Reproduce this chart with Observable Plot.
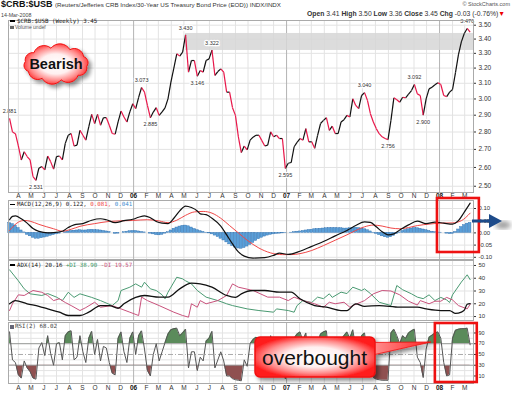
<!DOCTYPE html>
<html><head><meta charset="utf-8">
<script src="https://cdn.jsdelivr.net/npm/d3@7"></script>
<script src="https://cdn.jsdelivr.net/npm/@observablehq/plot@0.6"></script>
<style>
body{margin:0;background:#fff;font-family:"Liberation Sans",Arial,sans-serif}
#wrap{position:relative;width:512px;height:395px;overflow:hidden;background:#fff}
.t{position:absolute;white-space:nowrap;line-height:1}
.mono{font-family:"DejaVu Sans Mono",monospace;font-size:5.8px;color:#222}
.sw{display:inline-block;width:5px;height:1.3px;background:#000;vertical-align:middle;margin-right:2px}
</style></head><body><div id="wrap"></div>
<script>
// ---------- DATA ----------
const startWeek = Date.UTC(2005, 2, 11); // first weekly close (Fri 11-Mar-2005)
const wk = k => new Date(startWeek + k * 7 * 864e5);

const price = [2.881,2.80,2.79,2.72,2.641,2.687,2.66,2.641,2.551,2.531,
 2.596,2.605,2.587,2.663,2.632,2.591,2.660,2.663,2.641,2.734,
 2.781,2.791,2.719,2.724,2.810,2.781,2.753,2.83,2.905,2.850,
 2.905,2.840,2.885,2.885,2.84,2.791,2.787,2.86,2.925,2.889,
 2.859,2.92,2.970,2.940,3.01,3.073,3.043,2.96,2.885,2.919,
 2.946,2.899,2.92,2.945,3.001,3.107,3.20,3.297,3.281,3.308,
 3.430,3.173,3.251,3.251,3.146,3.184,3.173,3.251,3.262,3.322,
 3.151,3.177,3.195,3.173,3.043,3.043,2.946,2.899,2.772,2.682,
 2.719,2.697,2.753,2.77,2.781,2.781,2.75,2.719,2.724,2.801,
 2.772,2.781,2.762,2.762,2.595,2.623,2.627,2.715,2.74,2.762,
 2.753,2.820,2.743,2.743,2.706,2.78,2.850,2.869,2.885,2.810,
 2.834,2.791,2.791,2.859,2.873,2.899,2.889,3.001,2.960,2.940,
 3.022,3.040,2.991,2.909,2.859,2.82,2.79,2.772,2.762,2.756,
 2.869,3.007,2.995,2.980,3.011,3.007,3.03,3.053,3.092,3.032,
 3.022,2.900,3.001,3.064,3.075,3.09,3.103,3.092,3.022,3.015,
 3.043,3.06,3.17,3.29,3.38,3.44,3.476,3.45];
const priceTicks = [2.5,2.6,2.7,2.8,2.9,3.0,3.1,3.2,3.3,3.4,3.5];
// [week index, label, side]
const peakLabels = [[0,"2.881","up"],[9,"2.531","down"],[45,"3.073","up"],[48,"2.885","down"],
 [60,"3.430","up"],[64,"3.146","down"],[69,"3.322","up"],[94,"2.595","down"],[121,"3.040","up"],
 [129,"2.756","down"],[138,"3.092","up"],[141,"2.900","down"],[156,"3.476","up"]];
const resistanceBand = [60, 3.32, 3.44]; // from week, low, high

const macdLine = [[0,0.054],[1,0.068],[2,0.070],[4,0.058],[6,0.040],[8,0.018],[10,0.006],[13,0.000],[15,0.001],[18,0.007],[20,0.022],[22,0.033],[25,0.038],[28,0.052],[31,0.058],[33,0.054],[36,0.042],[39,0.050],[42,0.056],[44,0.064],[46,0.070],[48,0.062],[50,0.047],[52,0.040],[54,0.038],[56,0.060],[58,0.090],[60,0.110],[62,0.104],[64,0.090],[65,0.078],[67,0.075],[69,0.060],[72,0.028],[74,-0.008],[76,-0.045],[78,-0.078],[80,-0.095],[83,-0.103],[87,-0.101],[90,-0.092],[92,-0.083],[95,-0.088],[99,-0.075],[103,-0.055],[107,-0.035],[111,-0.012],[115,0.010],[118,0.030],[121,0.045],[123,0.043],[125,0.025],[127,0.005],[129,-0.008],[131,-0.004],[133,0.012],[136,0.033],[139,0.048],[142,0.038],[145,0.044],[148,0.040],[151,0.036],[153,0.050],[155,0.085],[157,0.122]];
const signalLine = [[0,0.010],[3,0.044],[5,0.051],[7,0.048],[10,0.035],[15,0.017],[18,0.007],[21,0.015],[24,0.027],[29,0.038],[34,0.047],[42,0.051],[47,0.054],[51,0.049],[54,0.042],[57,0.052],[60,0.072],[63,0.086],[66,0.088],[69,0.081],[72,0.060],[75,0.030],[78,0.000],[81,-0.030],[85,-0.062],[89,-0.082],[93,-0.089],[96,-0.089],[99,-0.085],[103,-0.072],[107,-0.052],[111,-0.030],[115,-0.008],[118,0.010],[121,0.025],[124,0.032],[127,0.028],[130,0.020],[133,0.017],[136,0.022],[139,0.030],[143,0.036],[147,0.040],[151,0.041],[154,0.050],[157,0.081]];
const macdHist = [0.040,0.036,0.030,0.020,0.010,0.002,-0.008,-0.014,-0.020,-0.024,-0.024,
 -0.022,-0.019,-0.016,-0.012,-0.009,-0.006,-0.003,
 0.000,0.003,0.006,0.008,0.009,
 0.010,0.011,0.010,0.010,0.012,0.013,0.012,0.011,0.010,0.008,0.006,0.004,
 0.000,-0.004,-0.003,0.000,
 0.003,0.005,0.007,0.008,0.008,0.006,
 0.004,0.002,0.000,-0.003,
 -0.006,-0.009,-0.010,-0.008,
 -0.003,0.003,0.010,0.017,0.022,0.026,0.029,0.030,0.027,0.022,
 0.016,0.011,0.007,0.004,0.001,-0.002,
 -0.006,-0.011,-0.017,-0.024,
 -0.031,-0.039,-0.047,-0.054,-0.060,-0.064,-0.065,-0.062,-0.056,-0.049,-0.041,-0.033,
 -0.026,-0.020,-0.015,-0.011,-0.008,-0.006,-0.004,-0.003,-0.002,-0.001,0.000,
 0.001,0.003,0.005,0.006,0.008,
 0.010,0.012,0.013,0.015,0.016,0.017,0.018,0.019,0.020,0.020,0.020,0.019,0.019,0.018,0.018,0.019,0.020,0.021,0.020,0.018,0.015,0.011,0.006,0.001,-0.004,
 -0.009,-0.014,-0.018,-0.020,-0.018,-0.012,
 -0.005,0.002,0.008,0.012,0.015,0.018,0.020,0.019,0.017,0.014,0.011,0.008,
 0.005,0.003,0.002,0.001,0.000,
 -0.003,-0.005,-0.004,
 0.004,0.014,0.024,0.032,0.038,0.041];
const macdTicks = [-0.10,-0.05,0,0.05,0.10];

const adxLine = [[0,20],[2,22.5],[6,20],[10,18],[13,16],[17,13.4],[20,10.8],[24,10.8],[27,13.4],[31,18.6],[34,18.6],[37,16.5],[39,20],[43,25],[46,26.5],[51,25.2],[54,25.2],[58,31.7],[62,36.1],[65,35.6],[69,33],[74,26.5],[77,25],[79,27.8],[83,30.4],[87,30.4],[92,29.1],[96,29.1],[99,23.9],[104,18.6],[108,17.3],[113,14.7],[115,14.7],[118,20],[121,18],[126,18.6],[133,17.3],[139,17.3],[142,16],[147,14.7],[150,14.7],[152,12.5],[154,13.5],[155,15],[156,19.6],[157,20.16]];
const plusDI = [[0,46.6],[3,38],[5,31.7],[7,27.8],[11,26.5],[13,28],[16,25.2],[18,22.5],[20,29],[22,25],[24,27.8],[28,25],[31,22.5],[35,18.6],[37,22.5],[38,30.4],[41,33],[43,35.6],[45,33],[46,36.9],[48,31.7],[50,30.4],[52,27],[53,23.9],[54,29],[57,40.8],[59,39.5],[60,38],[62,35.6],[64,30.4],[67,25.2],[71,22.5],[74,20],[76,18.6],[81,16],[85,14.7],[90,13.4],[91,16],[95,14.7],[97,13.4],[98,18.6],[100,22.5],[103,21],[105,25.2],[107,24],[109,27.8],[110,25],[113,29.1],[115,28],[117,33],[120,30.4],[121,31.7],[123,28],[126,21.2],[130,18.6],[132,34.3],[134,31],[137,27.8],[139,25.2],[141,24],[143,27],[145,22.5],[147,25],[149,23],[150,21],[151,27],[154,37],[156,42.7],[157,38.9]];
const minusDI = [[0,14.7],[1,20],[3,27],[5,26.5],[8,30.4],[11,29],[13,26.5],[15,22.5],[17,23.9],[19,21],[21,18.6],[24,14.7],[26,17],[29,21.2],[31,17.3],[35,18.6],[38,16],[41,13.4],[44,10.8],[45,25.2],[47,22.5],[51,18.6],[56,13.4],[59,10.8],[61,9.5],[62,20],[64,17.3],[65,22.5],[67,20],[71,22.5],[74,26.5],[76,35.6],[78,33],[83,30.4],[88,25.2],[92,25.2],[95,22.5],[97,25.2],[100,22.5],[104,20],[107,17.3],[109,21.2],[111,20],[114,21.2],[116,17.3],[117,18.6],[121,22.5],[124,27.8],[127,30.4],[130,30],[133,27],[136,22],[139,19],[140,22.5],[143,20],[145,22],[147,22],[149,25],[151,23],[153,18.6],[156,16],[157,19.57]];
const adxTicks = [10,20,30,40,50];

const rsi = [92,40,35,12,6,38,25,18,6,4,
 62,72,48,85,52,30,70,72,40,85,
 92,94,40,45,85,55,35,80,93,50,
 78,38,65,62,35,15,12,80,92,55,
 35,80,92,50,85,94,60,20,10,50,
 70,38,55,72,88,96,98,99,85,90,
 97,25,55,55,20,45,38,75,80,93,
 25,40,55,38,10,10,5,3,2,1,
 40,28,70,78,82,80,40,22,28,85,
 52,60,40,40,5,30,35,80,88,92,
 75,90,38,38,18,70,88,92,94,40,
 60,30,30,78,85,92,80,96,62,45,
 85,90,45,15,7,4,3,2,2,2,
 90,97,85,70,85,80,90,94,97,45,
 35,7,60,82,86,90,92,80,35,10,
 12,80,95,97,98,98,99,68.02];
const rsiTicks = [10,30,50,70,90];

// ---------- SETUP ----------
const ns = "http://www.w3.org/2000/svg";
const wrap = document.getElementById("wrap");
const xDomain = [new Date(Date.UTC(2005,2,8,12)), new Date(Date.UTC(2008,2,22))];
const months = d3.utcMonths(new Date(Date.UTC(2005,3,1)), new Date(Date.UTC(2008,2,2)));
const ML = "JFMAMJJASOND";
const isJan = d => d.getUTCMonth() === 0;
const mLabel = d => isJan(d) ? String(d.getUTCFullYear()).slice(2) : ML[d.getUTCMonth()];
const baseStyle = {fontFamily:"'Liberation Sans', Arial, sans-serif", fontSize:"7px", color:"#333", background:"none", overflow:"visible"};
const rows = arr => arr.map((v,k)=>({date:wk(k), v}));
const prs = arr => arr.map(([k,v])=>({date:wk(k), v}));

function grid(yTicks){
  return [
    Plot.ruleX(months.filter(d=>!isJan(d)), {stroke:"#e3e3e3"}),
    Plot.ruleY(yTicks, {stroke:"#e3e3e3"}),
    Plot.ruleX(months.filter(isJan), {stroke:"#b4b4b4"})
  ];
}
function monthText(dy){
  return [
    Plot.text(months.filter(d=>!isJan(d)), {x:d=>d, text:mLabel, frameAnchor:"bottom", dy, fontSize:6.5, fill:"#333"}),
    Plot.text(months.filter(isJan), {x:d=>d, text:mLabel, frameAnchor:"bottom", dy, fontSize:6.5, fontWeight:"bold", fill:"#111"})
  ];
}
function rightAxis(ticks, fmt, size){
  return Plot.axisY({anchor:"right", ticks, tickFormat:fmt, tickSize:2, tickPadding:3, fontSize:size, label:null});
}
function place(el, top){ el.style.position="absolute"; el.style.left="0px"; el.style.top=top+"px"; wrap.appendChild(el); }

// ---------- PRICE PANEL ----------
const pRows = rows(price);
const segs = d3.pairs(pRows);
const pricePlot = Plot.plot({
  width:512, height:185, marginLeft:8, marginRight:39, marginTop:1, marginBottom:12,
  x:{type:"utc", domain:xDomain, axis:null},
  y:{type:"log", domain:[2.4675,3.5345]},
  style:baseStyle,
  marks:[
    ...grid(priceTicks),
    Plot.rect([resistanceBand], {x1:d=>wk(d[0]), x2:()=>xDomain[1], y1:d=>d[1], y2:d=>d[2], fill:"#d6d6d6", fillOpacity:0.85}),
    Plot.link(segs.filter(([a,b])=>b.v>=a.v), {x1:d=>d[0].date, y1:d=>d[0].v, x2:d=>d[1].date, y2:d=>d[1].v, stroke:"#111", strokeWidth:1.2}),
    Plot.link(segs.filter(([a,b])=>b.v<a.v), {x1:d=>d[0].date, y1:d=>d[0].v, x2:d=>d[1].date, y2:d=>d[1].v, stroke:"#e8174a", strokeWidth:1.2}),
    Plot.text(peakLabels.filter(d=>d[2]==="up"), {x:d=>wk(d[0]), y:d=>price[d[0]], text:d=>d[1], dy:-7, fontSize:5.5, fill:"#333", stroke:"#fff", strokeWidth:2.5}),
    Plot.text(peakLabels.filter(d=>d[2]==="down"), {x:d=>wk(d[0]), y:d=>price[d[0]], text:d=>d[1], dy:7, fontSize:5.5, fill:"#333", stroke:"#fff", strokeWidth:2.5}),
    Plot.frame({stroke:"#aaa"}),
    rightAxis(priceTicks, d=>d.toFixed(2), 6.5),
    ...monthText(5)
  ]
});
place(pricePlot, 19);

// ---------- MACD PANEL ----------
const macdPlot = Plot.plot({
  width:512, height:61, marginLeft:8, marginRight:39, marginTop:1, marginBottom:1,
  x:{type:"utc", domain:xDomain, axis:null},
  y:{domain:[-0.109,0.1328]},
  style:baseStyle,
  marks:[
    ...grid(macdTicks),
    Plot.rect(rows(macdHist), {x1:d=>new Date(+d.date-3.1*864e5), x2:d=>new Date(+d.date+3.1*864e5), y1:0, y2:"v", fill:"#5a9fd8", stroke:"#2a6cad", strokeWidth:0.4}),
    Plot.line(prs(signalLine), {x:"date", y:"v", stroke:"#f04848", strokeWidth:1, curve:"monotone-x"}),
    Plot.line(prs(macdLine), {x:"date", y:"v", stroke:"#111", strokeWidth:1.2, curve:"monotone-x"}),
    Plot.frame({stroke:"#aaa"}),
    rightAxis(macdTicks, d=>d.toFixed(2), 6)
  ]
});
place(macdPlot, 199);

// ---------- ADX PANEL ----------
const adxPlot = Plot.plot({
  width:512, height:62, marginLeft:8, marginRight:39, marginTop:1, marginBottom:1,
  x:{type:"utc", domain:xDomain, axis:null},
  y:{domain:[6.9,53.9]},
  style:baseStyle,
  marks:[
    ...grid(adxTicks),
    Plot.line(prs(plusDI), {x:"date", y:"v", stroke:"#4a9a72", strokeWidth:1}),
    Plot.line(prs(minusDI), {x:"date", y:"v", stroke:"#c9527c", strokeWidth:1}),
    Plot.line(prs(adxLine), {x:"date", y:"v", stroke:"#111", strokeWidth:1.3, curve:"monotone-x"}),
    Plot.frame({stroke:"#aaa"}),
    rightAxis(adxTicks, d=>String(d), 6)
  ]
});
place(adxPlot, 259);

// ---------- RSI PANEL ----------
const rRows = rows(rsi);
const rsiPlot = Plot.plot({
  width:512, height:74, marginLeft:8, marginRight:39, marginTop:1, marginBottom:12,
  x:{type:"utc", domain:xDomain, axis:null},
  y:{domain:[-4,109.5]},
  style:baseStyle,
  marks:[
    ...grid([10,20,40,60,80,90]),
    Plot.areaY(rRows, {x:"date", y1:()=>70, y2:"v", fill:"#5b8b5b"}),
    Plot.areaY(rRows, {x:"date", y1:()=>30, y2:"v", fill:"#8f5050"}),
    Plot.ruleY([30,70], {stroke:"#999", strokeWidth:1}),
    Plot.ruleY([50], {stroke:"#aaa", strokeDasharray:"5,2,1,2"}),
    Plot.line(rRows, {x:"date", y:"v", stroke:"#555", strokeWidth:1}),
    Plot.frame({stroke:"#aaa"}),
    rightAxis(rsiTicks, d=>String(d), 5.5),
    ...monthText(6)
  ]
});
{
  const yR = rsiPlot.scale("y");
  const y70 = yR.apply(70), y30 = yR.apply(30);
  const defs = document.createElementNS(ns,"defs");
  const mk = (id, y, h) => {
    const cp = document.createElementNS(ns,"clipPath"); cp.setAttribute("id", id);
    const r = document.createElementNS(ns,"rect");
    r.setAttribute("x",0); r.setAttribute("y",y); r.setAttribute("width",512); r.setAttribute("height",h);
    cp.appendChild(r); defs.appendChild(cp);
  };
  mk("cHi", 0, y70); mk("cLo", y30, 80);
  rsiPlot.insertBefore(defs, rsiPlot.firstChild);
  const areas = rsiPlot.querySelectorAll('g[aria-label="area"]');
  if (areas[0]) areas[0].setAttribute("clip-path","url(#cHi)");
  if (areas[1]) areas[1].setAttribute("clip-path","url(#cLo)");
}
place(rsiPlot, 321);

// ---------- TEXT ----------
function addText(html, css){ const d=document.createElement("div"); d.className="t"; d.style.cssText+=css; d.innerHTML=html; wrap.appendChild(d); return d; }
addText('<b style="font-size:9px;color:#111">$CRB:$USB</b> <span style="font-size:6.2px">(Reuters/Jefferies CRB Index/30-Year US Treasury Bond Price (EOD)) INDX/INDX</span>', "left:1px;top:0px;color:#333;font-size:9px;height:10px");
addText('© StockCharts.com', "right:2px;top:2px;font-size:5.5px;color:#555");
addText('14-Mar-2008', "left:1px;top:12.5px;font-size:5.3px;color:#444");
addText('<b>Open</b> 3.41 <b>High</b> 3.50 <b>Low</b> 3.36 <b>Close</b> 3.45 <b>Chg</b> -0.03 (-0.76%)<span style="color:#e00">&#9660;</span>', "right:7px;top:10.5px;font-size:6.8px;color:#333");
addText('<span class="sw"></span>$CRB:$USB (Weekly) 3.45', "left:10px;top:18.5px").className="t mono";
addText('<span style="display:inline-block;width:4px;height:3px;background:#666;margin-right:1px"></span>Volume undef', "left:10px;top:24.5px;font-size:5px;color:#555");
addText('<span class="sw"></span>MACD(12,26,9) 0.122, <span style="color:#f04848">0.081,</span> <span style="color:#3d8fd1">0.041</span>', "left:10px;top:202px").className="t mono";
addText('<span class="sw"></span>ADX(14) 20.16 <span style="color:#3f9a6a">+DI 38.90</span> <span style="color:#c9527c">-DI 19.57</span>', "left:10px;top:262.5px").className="t mono";
addText('<span style="display:inline-block;width:4px;height:4px;background:#667;margin-right:1px;vertical-align:-0.5px"></span>RSI(2) 68.02', "left:10px;top:324px;color:#444").className="t mono";

// ---------- ANNOTATIONS ----------
const X = pricePlot.scale("x");
const bx1 = X.apply(new Date(Date.UTC(2007,11,27))), bx2 = X.apply(new Date(Date.UTC(2008,3,5)));
const rx1 = X.apply(new Date(Date.UTC(2007,11,22))), rx2 = X.apply(new Date(Date.UTC(2008,2,31)));
function cloudPath(cx, cy, rx, ry, n){
  const pts = d3.range(n).map(i=>{const a=i/n*2*Math.PI+0.15; return [cx+rx*Math.cos(a), cy+ry*Math.sin(a)];});
  let d = `M${pts[0][0]},${pts[0][1]}`;
  for (let i=0;i<n;i++){ const q=pts[i], p=pts[(i+1)%n]; const r=Math.hypot(p[0]-q[0],p[1]-q[1])*0.6; d+=`A${r},${r} 0 0 1 ${p[0]},${p[1]}`; }
  return d+"Z";
}
const ov = document.createElementNS(ns,"svg");
ov.setAttribute("width",512); ov.setAttribute("height",395);
ov.style.cssText="position:absolute;left:0;top:0;overflow:visible";
ov.innerHTML = `
<defs>
 <radialGradient id="rg" cx="50%" cy="50%" r="55%">
  <stop offset="0" stop-color="#ffffff"/><stop offset="0.45" stop-color="#fff0f0"/>
  <stop offset="0.75" stop-color="#ff8a8a"/><stop offset="1" stop-color="#ff1a1a"/></radialGradient>
 <linearGradient id="lg" x1="0" y1="0" x2="1" y2="0">
  <stop offset="0" stop-color="#ff9a9a"/><stop offset="1" stop-color="#ff2020"/></linearGradient>
 <filter id="sh" x="-20%" y="-20%" width="150%" height="160%">
  <feGaussianBlur in="SourceAlpha" stdDeviation="2"/><feOffset dx="3" dy="3" result="o"/>
  <feComponentTransfer><feFuncA type="linear" slope="0.45"/></feComponentTransfer>
  <feMerge><feMergeNode/><feMergeNode in="SourceGraphic"/></feMerge></filter>
 <filter id="blur"><feGaussianBlur stdDeviation="2.5"/></filter>
</defs>
<g filter="url(#sh)"><path d="${cloudPath(56,64,31,16,10)}" fill="url(#rg)" stroke="#f01010" stroke-width="1"/></g>
<text x="56" y="64" text-anchor="middle" dominant-baseline="central" font-family="Liberation Sans, Arial, sans-serif" font-weight="bold" font-size="14.5" fill="#111">Bearish</text>
<rect x="${bx1}" y="198" width="${bx2-bx1}" height="54" fill="none" stroke="#ee1111" stroke-width="2.6"/>
<rect x="${rx1}" y="323" width="${rx2-rx1}" height="59" fill="none" stroke="#ee1111" stroke-width="2.6"/>
<ellipse cx="503" cy="225" rx="8" ry="4" fill="#777" opacity="0.7" filter="url(#blur)"/>
<line x1="472" y1="221" x2="492" y2="221" stroke="#1d4b8a" stroke-width="3"/>
<polygon points="489,214 502,221 489,228" fill="#1d4b8a"/>
<g filter="url(#sh)">
 <polygon points="368,342.5 431,342 368,356" fill="url(#lg)" stroke="#f01010" stroke-width="0.8"/>
 <rect x="255" y="337" width="120" height="40" rx="5" fill="url(#rg)" stroke="#f01010" stroke-width="1.5"/>
</g>
<text x="314.5" y="357.5" text-anchor="middle" dominant-baseline="central" font-family="Liberation Sans, Arial, sans-serif" font-size="21" fill="#111">overbought</text>
`;
wrap.appendChild(ov);
</script></body></html>
